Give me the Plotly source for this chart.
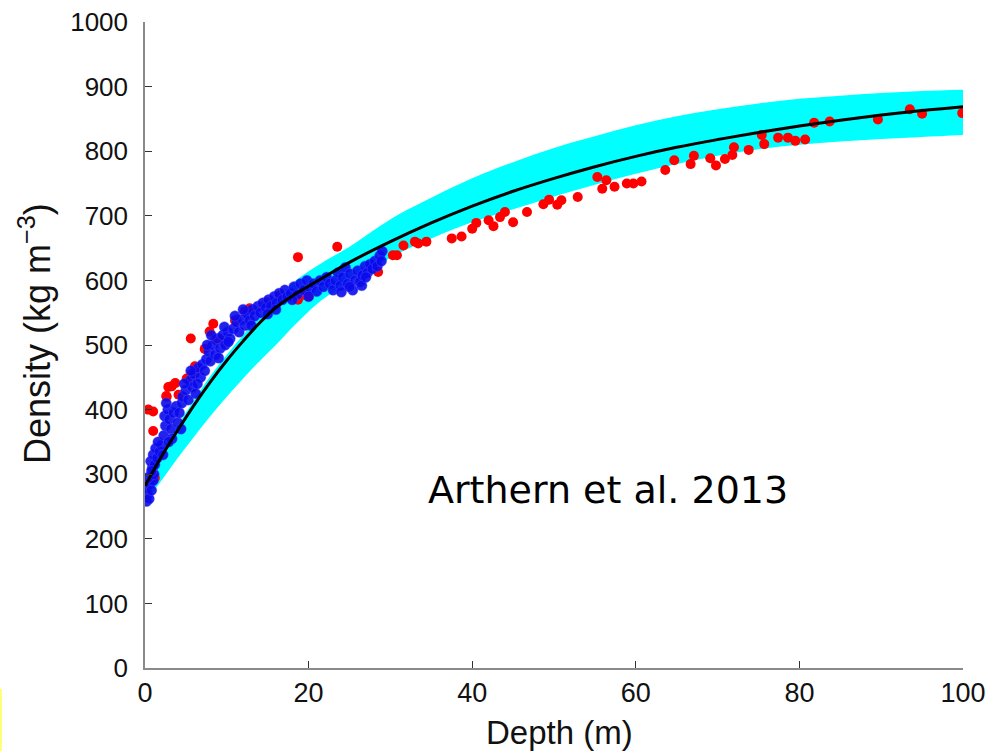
import plotly.graph_objects as go

# ---- data ----
curve_depth = [0, 2, 4, 6, 8, 10, 12, 14, 16, 18, 20, 22, 25, 30, 35, 40, 45, 50, 55, 60, 65, 70, 75, 80, 85, 90, 95, 100]
curve_density = [282, 327, 368, 407, 443, 476, 506, 534, 558, 576, 591, 606, 628, 660, 689, 715, 738, 758, 776, 792, 806, 818, 829, 839, 848, 856, 863, 869]

band_depth = [0.5, 2, 4, 6, 8, 10, 12, 14, 16, 18, 20, 22, 25, 28, 31, 35, 40, 45, 50, 55, 60, 65, 70, 75, 80, 85, 90, 95, 100]
band_upper = [300, 335, 375, 415, 452, 485, 515, 545, 570, 595, 614, 630, 652, 678, 702, 728, 758, 783, 805, 823, 840, 854, 865, 874, 881, 886, 890, 893, 895]
band_lower = [265, 290, 325, 358, 390, 420, 448, 475, 500, 527, 552, 573, 598, 620, 642, 665, 690, 710, 730, 748, 765, 780, 793, 803, 810, 815, 819, 822, 825]

red_depth = [0.4, 1.0, 1.0, 1.2, 2.6, 2.65, 2.85, 3.26, 3.7, 4.1, 5.1, 5.7, 6.1, 6.3, 7.3, 5.6, 7.9, 8.35, 8.6, 9.2,
             11.0, 11.2, 12.2, 12.8, 14.9, 16.5, 18.7, 18.7, 19.6, 20.0, 23.5, 28.5, 30.3, 30.8, 31.6, 33.0, 33.4, 34.4,
             37.5, 38.7, 40.0, 40.5, 42.0, 42.6, 43.4, 44.0, 45.0, 46.7, 48.7, 49.4, 50.4, 50.9, 52.9, 55.3, 55.9, 56.4,
             57.4, 58.9, 59.7, 60.7, 63.6, 64.7, 66.7, 67.1, 69.1, 69.8, 70.9, 71.8, 72.0, 73.8, 75.4, 75.7, 77.4, 78.6,
             79.5, 80.7, 81.8, 83.7, 89.6, 93.5, 95.0, 99.9]
red_density = [400, 397, 367, 294, 421, 420, 435, 436, 441, 423, 448, 455, 467, 464, 494, 510, 521, 533, 508, 509,
               538, 539, 552, 557, 566, 577, 636, 570, 577, 575, 652, 613, 639, 639, 654, 660, 657, 660,
               665, 668, 680, 689, 693, 684, 698, 706, 690, 706, 718, 725, 717, 724, 729, 760, 742, 755,
               745, 750, 750, 753, 771, 786, 780, 793, 789, 778, 788, 794, 806, 802, 825, 811, 821, 821,
               816, 818, 844, 846, 849, 865, 858, 859]

blue_depth = [0.2, 0.3, 0.2, 0.5, 0.6, 0.8, 1.0, 0.4, 1.1, 0.9,
              0.7, 1.2, 1.0, 1.5, 1.3, 1.8, 2.0, 1.6, 2.2, 0.8,
              2.3, 2.5, 2.4, 2.8, 2.6, 3.0, 3.2, 3.5, 3.8, 4.0, 4.2, 4.5, 3.3, 4.4, 2.9,
              4.6, 5.0, 5.3, 5.5, 5.8, 6.0, 6.2, 6.5, 6.8, 7.0, 7.3, 7.5, 4.8, 5.6, 6.4,
              7.8, 8.0, 8.3, 8.6, 8.9, 9.2, 9.5, 9.8, 10.1, 10.4, 7.6, 8.1, 9.0, 9.7, 10.2,
              10.8, 11.2, 11.5, 11.9, 12.2, 12.5, 12.8, 13.1, 13.4, 13.8, 14.1, 14.4, 11.0, 12.0, 13.0,
              14.8, 15.1, 15.4, 15.8, 16.1, 16.4, 16.8, 17.1, 17.4, 15.0, 16.0,
              17.8, 18.2, 18.6, 19.0, 19.4, 19.8, 20.2, 20.6, 21.0, 21.4, 21.8, 22.2, 22.6, 18.0, 20.0,
              23.0, 23.3, 23.6, 23.9, 24.2, 24.5, 24.8, 25.1, 25.4, 25.7, 26.0, 26.3, 26.6, 26.9, 24.0, 25.0, 26.5,
              27.2, 27.5, 27.8, 28.1, 28.4, 28.7, 29.0, 28.9, 27.0]
blue_density = [258, 268, 278, 262, 285, 275, 290, 295, 300, 310,
                320, 315, 330, 325, 340, 335, 345, 350, 330, 305,
                360, 375, 390, 400, 410, 385, 370, 395, 405, 380, 395, 410, 355, 370, 350,
                420, 430, 415, 445, 435, 455, 425, 465, 450, 470, 460, 478, 440, 460, 440,
                490, 475, 500, 485, 510, 495, 515, 500, 520, 510, 500, 515, 480, 528, 505,
                525, 535, 520, 540, 530, 548, 538, 555, 545, 560, 550, 565, 545, 555, 530,
                558, 570, 560, 575, 565, 580, 570, 585, 575, 548, 555,
                580, 590, 578, 595, 585, 600, 588, 595, 583, 600, 590, 605, 595, 570, 575,
                585, 600, 612, 592, 605, 620, 595, 610, 585, 600, 615, 598, 608, 622, 582, 590, 592,
                612, 625, 618, 630, 622, 638, 645, 630, 605]

x_ticks = [0, 20, 40, 60, 80, 100]
y_ticks = [0, 100, 200, 300, 400, 500, 600, 700, 800, 900, 1000]

fig = go.Figure()

# cyan uncertainty band
fig.add_trace(go.Scatter(x=band_depth, y=band_lower, mode="lines", line=dict(width=0, shape="spline"),
                         hoverinfo="skip", showlegend=False))
fig.add_trace(go.Scatter(x=band_depth, y=band_upper, mode="lines", line=dict(width=0, shape="spline"),
                         fill="tonexty", fillcolor="#00ffff", hoverinfo="skip", showlegend=False))

fig.add_trace(go.Scatter(x=red_depth, y=red_density, mode="markers",
                         marker=dict(size=10, color="#ff0000", line=dict(width=0)), showlegend=False))
fig.add_trace(go.Scatter(x=blue_depth, y=blue_density, mode="markers",
                         marker=dict(size=10.5, color="rgba(10,10,235,0.9)", line=dict(width=0.6, color="rgba(80,80,255,0.7)")),
                         showlegend=False))
fig.add_trace(go.Scatter(x=curve_depth, y=curve_density, mode="lines",
                         line=dict(color="black", width=3, shape="spline", smoothing=1.0), showlegend=False))

fig.add_annotation(x=56.6, y=275, xref="x", yref="y", text="Arthern et al. 2013", showarrow=False,
                   xanchor="center", yanchor="middle",
                   font=dict(family="DejaVu Sans", size=38, color="black"))

# axis titles placed as annotations for exact positioning
fig.add_annotation(x=-0.1345, y=0.5186, xref="paper", yref="paper", text="Density (kg m<sup>−3</sup>)",
                   textangle=-90, showarrow=False, xanchor="center", yanchor="middle",
                   font=dict(family="Liberation Sans, Arial", size=36, color="#111111"))
fig.add_annotation(x=0.507, y=-0.1006, xref="paper", yref="paper", text="Depth (m)", showarrow=False,
                   xanchor="center", yanchor="middle",
                   font=dict(family="Liberation Sans, Arial", size=33, color="#111111"))

fig.add_shape(type="rect", xref="paper", yref="paper", x0=-0.1773, x1=-0.1750, y0=-0.1285, y1=-0.0325,
              fillcolor="#ffff70", line=dict(width=0))

fig.update_layout(
    width=996, height=751,
    margin=dict(l=145, r=33, t=22, b=83),
    paper_bgcolor="white", plot_bgcolor="white",
    font=dict(family="Liberation Sans, Arial", color="#111111"),
    xaxis=dict(range=[0, 100], tickvals=x_ticks, ticks="inside", ticklen=7, tickcolor="#333333",
               showline=True, linecolor="#8a8a8a", linewidth=1.5, showgrid=False, zeroline=False,
               automargin=False,
               tickfont=dict(family="Liberation Sans, Arial", size=27, color="#111111")),
    yaxis=dict(range=[0, 1000], tickvals=y_ticks, ticks="inside", ticklen=7, tickcolor="#333333",
               showline=True, linecolor="#8a8a8a", linewidth=1.5, showgrid=False, zeroline=False,
               automargin=False,
               tickfont=dict(family="Liberation Sans, Arial", size=26, color="#111111"), ticklabelstandoff=10),
)

fig.write_html("out.html")
